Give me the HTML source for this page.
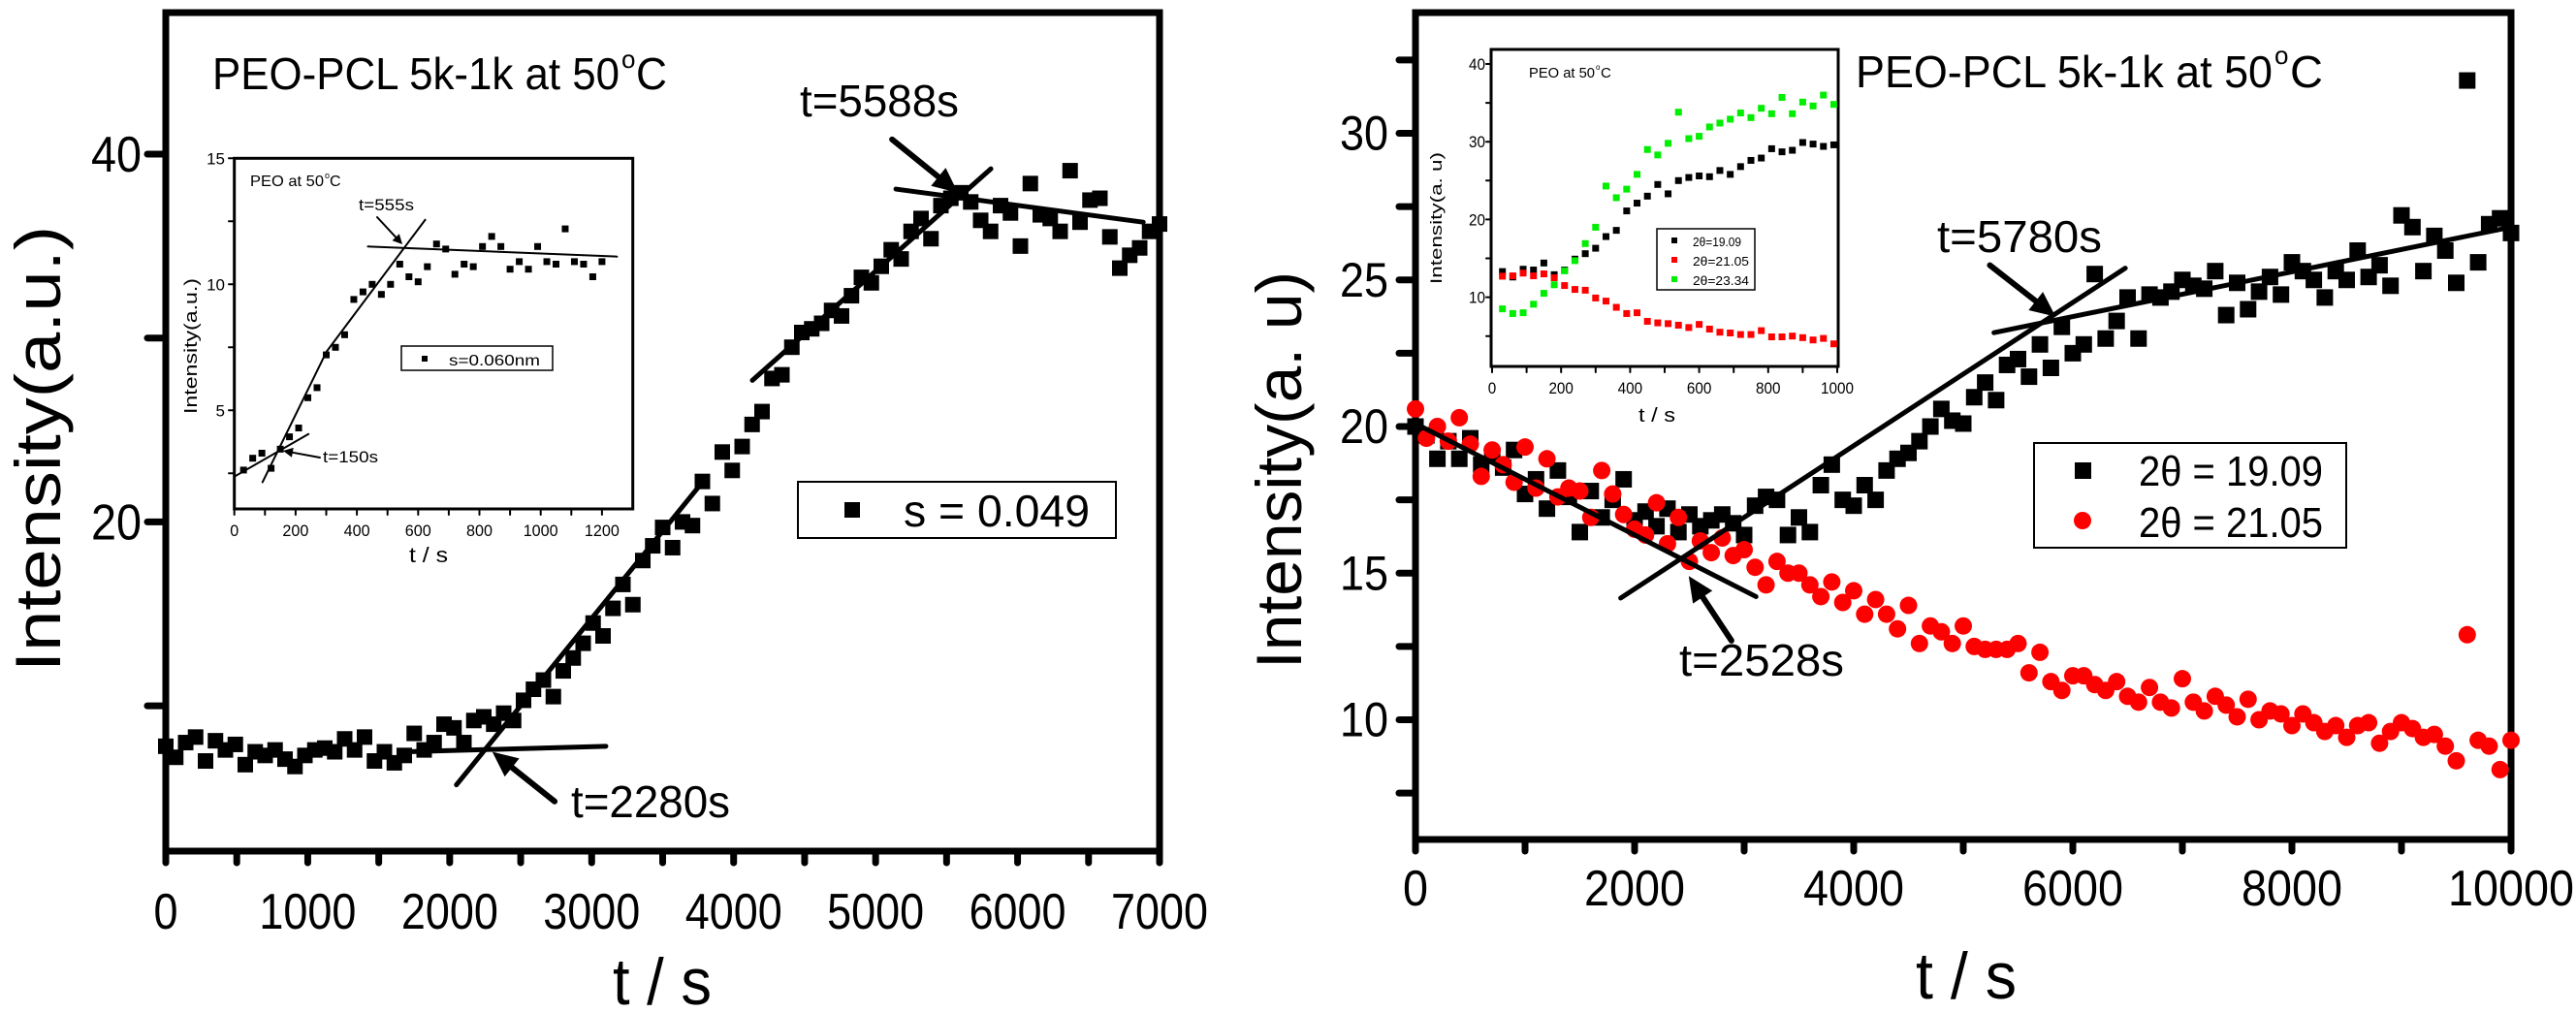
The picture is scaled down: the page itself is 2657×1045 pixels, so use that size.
<!DOCTYPE html>
<html><head><meta charset="utf-8"><style>
html,body{margin:0;padding:0;background:#fff;}
svg{display:block;font-family:"Liberation Sans",Arial,sans-serif;}
</style></head><body>
<svg id="fig" xmlns="http://www.w3.org/2000/svg" width="2657" height="1045" viewBox="0 0 2657 1045"></svg>
<script>
// ---------- Left main chart data ----------
const leftTimes = [0,70,140,210,280,350,420,490,560,630,700,770,840,910,980,1050,1120,1190,1260,1330,1400,1470,1540,1610,1680,1750,1820,1890,1960,2030,2100,2170,2240,2310,2380,2450,2520,2590,2660,2730,2800,2870,2940,3010,3080,3150,3220,3290,3360,3430,3500,3570,3640,3710,3780,3850,3920,3990,4060,4130,4200,4270,4340,4410,4480,4550,4620,4690,4760,4830,4900,4970,5040,5110,5180,5250,5320,5390,5460,5530,5600,5670,5740,5810,5880,5950,6020,6090,6160,6230,6300,6370,6440,6510,6580,6650,6720,6790,6860,6930,7000];
const leftValues = [7.8,7.2,8.0,8.3,7.0,8.1,7.6,7.9,6.8,7.5,7.3,7.6,7.1,6.7,7.3,7.6,7.7,7.5,8.2,7.6,8.3,7.0,7.5,6.9,7.3,8.5,7.6,8.0,9.0,8.8,8.0,9.2,9.4,9.0,9.6,9.2,10.3,10.9,11.4,10.5,11.9,12.6,13.4,14.5,13.8,15.3,16.6,15.5,17.9,18.7,19.7,18.6,20.0,19.8,22.2,21.0,23.8,22.8,24.1,25.3,26.0,27.8,28.0,29.5,30.3,30.5,30.8,31.5,31.2,32.3,33.3,33.0,33.9,34.8,34.3,35.8,36.5,35.4,37.2,37.6,37.9,37.4,36.4,35.8,37.2,36.8,35.0,38.4,36.7,36.5,35.8,39.1,36.3,37.5,37.6,35.5,33.8,34.5,34.9,35.8,36.2];
const leftXTicks = [0,1000,2000,3000,4000,5000,6000,7000];
const leftYTicks = [20,40];
// ---------- Left inset data ----------
const insetLTimes = [30,60,90,120,150,180,210,240,270,300,330,360,390,420,450,480,510,540,570,600,630,660,690,720,750,780,810,840,870,900,930,960,990,1020,1050,1080,1110,1140,1170,1200];
const insetLValues = [2.63,3.1,3.3,2.7,3.46,3.95,4.3,5.5,5.9,7.2,7.5,8.0,9.4,9.7,10.0,9.6,10.0,10.8,10.3,10.1,10.7,11.6,11.4,10.4,10.8,10.7,11.5,11.9,11.5,10.6,10.9,10.6,11.5,10.9,10.8,12.2,10.9,10.8,10.3,10.9];
const insetLXTicks = [0,200,400,600,800,1000,1200];
const insetLYTicks = [5,10,15];
// ---------- Right main chart data ----------
const rightTimes = [0,100,200,300,400,500,600,700,800,900,1000,1100,1200,1300,1400,1500,1600,1700,1800,1900,2000,2100,2200,2300,2400,2500,2600,2700,2800,2900,3000,3100,3200,3300,3400,3500,3600,3700,3800,3900,4000,4100,4200,4300,4400,4500,4600,4700,4800,4900,5000,5100,5200,5300,5400,5500,5600,5700,5800,5900,6000,6100,6200,6300,6400,6500,6600,6700,6800,6900,7000,7100,7200,7300,7400,7500,7600,7700,7800,7900,8000,8100,8200,8300,8400,8500,8600,8700,8800,8900,9000,9100,9200,9300,9400,9500,9600,9700,9800,9900,10000];
const blackValues = [20.0,19.7,18.9,19.5,18.9,19.6,18.7,19.0,18.6,19.2,17.7,18.2,17.2,18.5,17.6,16.4,17.8,16.9,17.5,18.2,16.8,17.1,16.6,17.2,16.4,17.0,16.6,16.8,17.0,16.7,16.3,17.3,17.6,17.5,16.3,16.9,16.4,18.0,18.7,17.5,17.3,18.0,17.5,18.5,18.9,19.1,19.5,20.0,20.6,20.2,20.1,21.0,21.5,20.9,22.1,22.3,21.7,22.8,22.0,23.4,22.5,22.8,25.2,23.0,23.6,24.4,23.0,24.5,24.4,24.6,25.0,24.8,24.7,25.3,23.8,24.9,24.0,24.6,25.1,24.5,25.6,25.3,25.0,24.4,25.3,25.0,26.0,25.1,25.5,24.8,27.2,26.8,25.3,26.5,26.0,24.9,31.8,25.6,26.9,27.1,26.6];
const redValues = [20.6,19.6,20.0,19.5,20.3,19.4,18.3,19.2,18.7,18.1,19.3,17.9,18.9,17.6,17.9,17.8,16.9,18.5,17.7,17.0,16.5,16.3,17.4,16.0,16.9,15.4,16.1,15.7,16.2,15.6,15.8,15.2,14.6,15.4,15.0,15.0,14.6,14.2,14.7,14.0,14.4,13.6,14.1,13.6,13.1,13.9,12.6,13.2,13.0,12.6,13.2,12.5,12.4,12.4,12.4,12.6,11.6,12.3,11.3,11.0,11.5,11.5,11.2,11.0,11.3,10.8,10.6,11.1,10.6,10.4,11.4,10.6,10.3,10.8,10.5,10.1,10.7,10.0,10.3,10.2,9.8,10.2,9.9,9.6,9.8,9.4,9.8,9.9,9.2,9.6,9.9,9.7,9.4,9.5,9.1,8.6,12.9,9.3,9.1,8.3,9.3];
const rightXTicks = [0,2000,4000,6000,8000,10000];
const rightYTicks = [10,15,20,25,30];
// ---------- Right inset data ----------
const insetRTimes = [30,60,90,120,150,180,210,240,270,300,330,360,390,420,450,480,510,540,570,600,630,660,690,720,750,780,810,840,870,900,930,960,990];
const insetRBlack = [13.3,12.6,13.6,13.5,14.4,12.9,13.5,14.9,15.6,16.3,17.8,18.6,21.1,22.1,23.0,24.5,23.3,25.0,25.4,25.6,25.5,26.3,25.8,26.8,27.6,27.9,29.1,28.7,28.9,29.9,29.7,29.4,29.6];
const insetRRed = [12.7,12.75,13.1,12.75,13.0,12.5,11.5,11.0,10.9,9.9,9.5,8.7,7.9,8.0,6.9,6.7,6.6,6.4,6.1,6.5,5.9,5.5,5.4,5.2,5.2,5.7,4.9,4.9,5.0,4.8,4.5,4.7,4.0];
const insetRGreen = [8.5,7.9,8.0,9.1,10.5,11.6,13.4,14.7,16.9,19.0,24.3,22.8,23.9,25.8,29.0,28.3,29.8,33.8,30.4,30.7,31.9,32.4,32.9,33.7,33.1,34.3,33.6,35.7,33.6,35.1,34.6,36.0,34.8];
const insetRXTicks = [0,200,400,600,800,1000];
const insetRYTicks = [10,20,30,40];

// ---------- axis functions ----------
const lx = t => 171 + t * 1025 / 7000;
const ly = v => 159 + (40 - v) * 18.97;
const ix = t => 241.7 + t * 0.316;
const iy = v => 163.3 + (15 - v) * 26;
const rx = t => 1460 + t * 0.113;
const ry = v => 440 - (v - 20) * 30.25;
const jx = t => 1539 + t * 0.356;
const jy = v => 66 + (40 - v) * 8.02;

const NS = "http://www.w3.org/2000/svg";
const svg = document.getElementById('fig');
function mk(tag, attrs, parent) {
  const e = document.createElementNS(NS, tag);
  for (const k in attrs) e.setAttribute(k, attrs[k]);
  (parent || svg).appendChild(e);
  return e;
}
function txt(x, y, s, size, anchor, len, parent) {
  const a = {x: x, y: y, 'font-size': size, 'text-anchor': anchor || 'start', fill: '#000'};
  if (len) { a.textLength = len; a.lengthAdjust = 'spacingAndGlyphs'; }
  const e = mk('text', a, parent);
  e.textContent = s;
  return e;
}
function line(x1, y1, x2, y2, w, parent) {
  return mk('line', {x1: x1, y1: y1, x2: x2, y2: y2, stroke: '#000', 'stroke-width': w, 'stroke-linecap': 'round'}, parent);
}
function arrow(x1, y1, x2, y2, w, hl, hw, parent) {
  const g = mk('g', {}, parent);
  const dx = x2 - x1, dy = y2 - y1, L = Math.hypot(dx, dy), ux = dx / L, uy = dy / L;
  const bx = x2 - ux * hl, by = y2 - uy * hl;
  line(x1, y1, bx, by, w, g);
  mk('polygon', {points: `${x2},${y2} ${bx - uy * hw},${by + ux * hw} ${bx + uy * hw},${by - ux * hw}`, fill: '#000'}, g);
  return g;
}

// ================= LEFT MAIN =================
const gL = mk('g', {});


const frameL = mk('rect', {x: 171, y: 13, width: 1025, height: 865, fill: 'none', stroke: '#000', 'stroke-width': 7}, gL);


for (let v = 10; v <= 40; v += 10) {
  const tk = line(152, ly(v), 171, ly(v), 7, gL);
  
  
}
leftYTicks.forEach(v => {
  const t = txt(146, ly(v) + 18, String(v), 52, 'end', 52, gL);
  
  
});
for (let t = 0; t <= 7000; t += 500) {
  const tk = line(lx(t), 878, lx(t), 890, 7, gL);
  
  
}
leftXTicks.forEach(t => {
  const e = txt(lx(t), 958, String(t), 52, 'middle', String(t).length * 25, gL);
  
  
});
const ltl = txt(683, 1036, 't / s', 68, 'middle', 102, gL);


const lyt = txt(0, 0, 'Intensity(a.u.)', 66, 'middle', 460, gL);
lyt.setAttribute('transform', 'translate(62,463) rotate(-90)');


const gLpts = mk('g', {}, gL);


leftTimes.forEach((t, i) => {
  const p = mk('rect', {x: lx(t) - 8, y: ly(leftValues[i]) - 8, width: 16, height: 16, fill: '#000'}, gLpts);
  
  
});
// fit lines
const lf1 = line(lx(1700), ly(7.5), lx(3100), ly(7.8), 5, gL);


const lf2 = line(lx(2047), ly(5.7), lx(3784), ly(22.2), 5, gL);


const lf3 = line(lx(4132), ly(27.7), lx(5812), ly(39.2), 5, gL);


const lf4 = line(lx(5143), ly(38.1), lx(6885), ly(36.3), 5, gL);


const la1 = arrow(lx(5116), ly(40.8), lx(5580), ly(37.9), 6, 26, 12, gL);


const la2 = arrow(lx(2739), ly(4.8), lx(2300), ly(7.5), 6, 26, 12, gL);


const lt1 = txt(825, 120, 't=5588s', 46, 'start', 164, gL);


const lt2 = txt(589, 843, 't=2280s', 46, 'start', 164, gL);


const ltitle = txt(219, 92, 'PEO-PCL 5k-1k at 50', 46, 'start', 420, gL);


const ldeg = txt(641, 70, 'o', 26, 'start', null, gL);


const lC = txt(656, 92, 'C', 46, 'start', 32, gL);


const lleg = mk('g', {}, gL);


mk('rect', {x: 823, y: 497, width: 328, height: 58, fill: '#fff', stroke: '#000', 'stroke-width': 2}, lleg);
mk('rect', {x: 871, y: 518, width: 16, height: 16, fill: '#000'}, lleg);
txt(932, 543, 's = 0.049', 46, 'start', 192, lleg);

// ---------- left inset ----------
const gLi = mk('g', {}, gL);


mk('rect', {x: 241.7, y: 163.3, width: 411, height: 361.7, fill: 'none', stroke: '#000', 'stroke-width': 3}, gLi);
for (let v = 2.5; v <= 15; v += 2.5) line(236, iy(v), 241.7, iy(v), 2, gLi);
insetLYTicks.forEach(v => {
  const e = txt(232, iy(v) + 6, String(v), 17, 'end', null, gLi);
  
  
});
for (let t = 0; t <= 1200; t += 100) line(ix(t), 525, ix(t), 531, 2, gLi);
insetLXTicks.forEach(t => {
  const e = txt(ix(t), 553, String(t), 17, 'middle', String(t).length * 9, gLi);
  
  
});
const lix = txt(442, 580, 't / s', 22, 'middle', 40, gLi);


const liy = txt(0, 0, 'Intensity(a.u.)', 18, 'middle', 140, gLi);
liy.setAttribute('transform', 'translate(203,357) rotate(-90)');


const lit = txt(258, 192, 'PEO at 50', 16, 'start', 76, gLi);


txt(335, 184, 'o', 9, 'start', null, gLi);
txt(340, 192, 'C', 16, 'start', null, gLi);
insetLTimes.forEach((t, i) => {
  const p = mk('rect', {x: ix(t) - 3.5, y: iy(insetLValues[i]) - 3.5, width: 7, height: 7, fill: '#000'}, gLi);
  
  
});
line(ix(0), iy(2.37), ix(242), iy(4.06), 2, gLi);
line(ix(92), iy(2.15), ix(301), iy(7.33), 2, gLi);
line(ix(301), iy(7.33), ix(623), iy(12.56), 2, gLi);
line(ix(436), iy(11.5), ix(1249), iy(11.1), 2, gLi);
const lia1 = arrow(389, 224, 415, 252, 2, 10, 5, gLi);


const lia2 = arrow(330, 472, 292, 465, 2, 10, 5, gLi);


const lil1 = txt(370, 217, 't=555s', 17, 'start', 57, gLi);


const lil2 = txt(333, 477, 't=150s', 17, 'start', 57, gLi);


const lileg = mk('g', {}, gLi);


mk('rect', {x: 414, y: 357, width: 156, height: 25, fill: '#fff', stroke: '#000', 'stroke-width': 1.5}, lileg);
mk('rect', {x: 435, y: 367, width: 6, height: 6, fill: '#000'}, lileg);
txt(463, 377, 's=0.060nm', 16, 'start', 94, lileg);

// ================= RIGHT MAIN =================
const gR = mk('g', {});


const frameR = mk('rect', {x: 1460, y: 13, width: 1130, height: 853, fill: 'none', stroke: '#000', 'stroke-width': 7}, gR);


for (let v = 7.5; v <= 32.5; v += 2.5) {
  const tk = line(1443, ry(v), 1460, ry(v), 7, gR);
  
  
}
rightYTicks.forEach(v => {
  const e = txt(1432, ry(v) + 17, String(v), 50, 'end', 50, gR);
  
  
});
for (let t = 0; t <= 10000; t += 1000) {
  const tk = line(rx(t), 866, rx(t), 878, 7, gR);
  
  
}
rightXTicks.forEach(t => {
  const e = txt(rx(t), 934, String(t), 52, 'middle', String(t).length * 26, gR);
  
  
});
const rtl = txt(2028, 1030, 't / s', 68, 'middle', 104, gR);


const ryt = txt(0, 0, 'Intensity(a. u)', 66, 'middle', 410, gR);
ryt.setAttribute('transform', 'translate(1342,485) rotate(-90)');


const gRb = mk('g', {}, gR);


const gRr = mk('g', {}, gR);


rightTimes.forEach((t, i) => {
  const p = mk('rect', {x: rx(t) - 8.5, y: ry(blackValues[i]) - 8.5, width: 17, height: 17, fill: '#000'}, gRb);
  
  
});
rightTimes.forEach((t, i) => {
  const c = mk('circle', {cx: rx(t), cy: ry(redValues[i]), r: 9, fill: '#ff0000'}, gRr);
  
  
});
const rf1 = line(rx(0), ry(20.1), rx(3108), ry(14.2), 5, gR);


const rf2 = line(rx(1873), ry(14.15), rx(6479), ry(25.4), 5, gR);


const rf3 = line(rx(5280), ry(23.2), rx(10000), ry(26.8), 5, gR);


const ra1 = arrow(rx(5243), ry(25.5), rx(5843), ry(23.75), 6, 26, 12, gR);


const ra2 = arrow(rx(2884), ry(12.7), rx(2494), ry(14.9), 6, 26, 12, gR);


const rt1 = txt(1998, 260, 't=5780s', 46, 'start', 170, gR);


const rt2 = txt(1732, 697, 't=2528s', 46, 'start', 170, gR);


const rtitle = txt(1914, 90, 'PEO-PCL 5k-1k at 50', 46, 'start', 430, gR);


txt(2346, 66, 'o', 26, 'start', null, gR);
txt(2362, 90, 'C', 46, 'start', 34, gR);
const rleg = mk('g', {}, gR);


mk('rect', {x: 2098, y: 457, width: 322, height: 108, fill: '#fff', stroke: '#000', 'stroke-width': 2}, rleg);
mk('rect', {x: 2140, y: 477, width: 17, height: 17, fill: '#000'}, rleg);
mk('circle', {cx: 2148, cy: 537, r: 9, fill: '#ff0000'}, rleg);
txt(2206, 501, '2θ = 19.09', 44, 'start', 190, rleg);
txt(2206, 554, '2θ = 21.05', 44, 'start', 190, rleg);

// ---------- right inset ----------
const gRi = mk('g', {}, gR);


mk('rect', {x: 1538, y: 51, width: 358, height: 327, fill: 'none', stroke: '#000', 'stroke-width': 3}, gRi);
for (let v = 5; v <= 40; v += 5) line(1533, jy(v), 1538, jy(v), 2, gRi);
insetRYTicks.forEach(v => {
  const e = txt(1532, jy(v) + 6, String(v), 17, 'end', 17, gRi);
  
  
});
for (let t = 0; t <= 1000; t += 100) line(jx(t), 378, jx(t), 384, 2, gRi);
insetRXTicks.forEach(t => {
  const e = txt(jx(t), 406, String(t), 17, 'middle', String(t).length * 8.5, gRi);
  
  
});
const rix = txt(1709, 435, 't / s', 20, 'middle', 38, gRi);


const riy = txt(0, 0, 'Intensity(a. u)', 17, 'middle', 136, gRi);
riy.setAttribute('transform', 'translate(1487,225) rotate(-90)');


const rit = txt(1577, 80, 'PEO at 50', 15, 'start', 68, gRi);


txt(1646, 72, 'o', 8, 'start', null, gRi);
txt(1651, 80, 'C', 15, 'start', null, gRi);
const series = [[insetRBlack, '#000000', 'right-inset-black-point'], [insetRRed, '#ff0000', 'right-inset-red-point'], [insetRGreen, '#00ee00', 'right-inset-green-point']];
series.forEach(s => {
  insetRTimes.forEach((t, i) => {
    const p = mk('rect', {x: jx(t) - 3.5, y: jy(s[0][i]) - 3.5, width: 7, height: 7, fill: s[1]}, gRi);
    
    
  });
});
const rileg = mk('g', {}, gRi);


mk('rect', {x: 1709, y: 236, width: 101, height: 63, fill: '#fff', stroke: '#000', 'stroke-width': 1.5}, rileg);
mk('rect', {x: 1724, y: 245, width: 6, height: 6, fill: '#000'}, rileg);
mk('rect', {x: 1724, y: 265, width: 6, height: 6, fill: '#ff0000'}, rileg);
mk('rect', {x: 1724, y: 285, width: 6, height: 6, fill: '#00ee00'}, rileg);
txt(1746, 254, '2θ=19.09', 13, 'start', 50, rileg);
txt(1746, 274, '2θ=21.05', 13, 'start', 58, rileg);
txt(1746, 294, '2θ=23.34', 13, 'start', 58, rileg);
</script>
</body></html>
